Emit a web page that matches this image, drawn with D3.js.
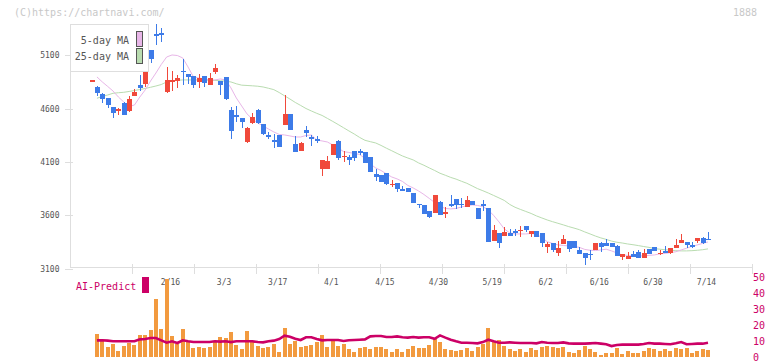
<!DOCTYPE html>
<html>
<head>
<meta charset="utf-8">
<script src="https://cdn.jsdelivr.net/npm/d3@7/dist/d3.min.js"></script>
<style>
  body { margin: 0; background: #fff; }
  svg { display: block; font-family: "DejaVu Sans Mono", monospace; }
</style>
</head>
<body>
<div id="chart"></div>
<script>
// trading days, 2026
const dates = [
  '1/23','1/26','1/27','1/28','1/29','1/30','2/2','2/3','2/4','2/5','2/6','2/9','2/10','2/12','2/13',
  '2/16','2/17','2/18','2/19','2/20','2/24','2/25','2/26','2/27','3/2',
  '3/3','3/4','3/5','3/6','3/9','3/10','3/11','3/12','3/13','3/16',
  '3/17','3/18','3/19','3/23','3/24','3/25','3/26','3/27','3/30','3/31',
  '4/1','4/2','4/3','4/6','4/7','4/8','4/9','4/10','4/13','4/14',
  '4/15','4/16','4/17','4/20','4/21','4/22','4/23','4/24','4/27','4/28',
  '4/30','5/1','5/7','5/8','5/11','5/12','5/13','5/14','5/15','5/18',
  '5/19','5/20','5/21','5/22','5/25','5/26','5/27','5/28','5/29','6/1',
  '6/2','6/3','6/4','6/5','6/8','6/9','6/10','6/11','6/12','6/15',
  '6/16','6/17','6/18','6/19','6/22','6/23','6/24','6/25','6/26','6/29',
  '6/30','7/1','7/2','7/3','7/6','7/7','7/8','7/9','7/10','7/13','7/14'
];

const openP = [
  4866,4806,4740,4700,4615,4581,4650,4581,4721,4822,4831,5150,5300,5309,4756,
  4845,4859,4953,4925,4906,4853,4906,4822,4943,4859,4899,4587,4540,4509,4290,
  4468,4587,4456,4353,4306,4353,4447,4550,4269,4206,4400,4331,4315,4034,4034,
  4166,4300,4150,4150,4203,4203,4197,4144,3988,3978,4000,3884,3900,3842,3859,
  3812,3708,3697,3641,3625,3725,3610,3702,3753,3706,3681,3734,3672,3703,3666,
  3362,3432,3406,3437,3456,3456,3500,3425,3456,3432,3306,3344,3250,3331,3362,
  3362,3275,3244,3238,3275,3338,3344,3344,3313,3212,3194,3238,3259,3203,3282,
  3306,3238,3269,3250,3297,3344,3353,3322,3360,3385,3378
];
const highP = [
  4866,4815,4747,4700,4615,4609,4662,4719,4781,4915,4993,5150,5393,5356,4993,
  4953,4915,5062,4925,4906,4925,4906,4931,5018,4859,4899,4618,4625,4509,4431,
  4562,4594,4456,4384,4362,4353,4728,4550,4344,4290,4440,4353,4344,4119,4156,
  4269,4306,4203,4166,4203,4219,4197,4144,4034,3978,4000,3931,3900,3875,3859,
  3812,3708,3697,3641,3791,3734,3675,3791,3753,3760,3781,3734,3672,3741,3666,
  3510,3432,3494,3469,3469,3500,3500,3456,3456,3432,3353,3344,3362,3416,3362,
  3362,3306,3244,3275,3338,3353,3376,3344,3322,3238,3259,3269,3275,3282,3282,
  3306,3275,3313,3297,3376,3425,3353,3353,3391,3400,3447
];
const lowP = [
  4866,4721,4656,4609,4515,4540,4540,4571,4721,4768,4806,5031,5196,5227,4744,
  4765,4794,4822,4831,4798,4794,4806,4822,4920,4728,4681,4315,4478,4416,4281,
  4456,4456,4353,4313,4228,4238,4447,4400,4197,4206,4331,4250,4275,3972,4034,
  4166,4119,4103,4072,4112,4166,4088,4009,3925,3915,3884,3868,3822,3833,3816,
  3719,3666,3613,3572,3625,3603,3578,3675,3657,3666,3681,3697,3566,3638,3353,
  3362,3291,3406,3406,3406,3400,3444,3400,3400,3306,3244,3259,3219,3331,3259,
  3291,3238,3135,3182,3275,3259,3313,3306,3222,3182,3194,3212,3203,3203,3238,
  3269,3228,3250,3238,3297,3344,3291,3291,3338,3331,3369
];
const closeP = [
  4866,4744,4693,4637,4562,4594,4540,4690,4759,4794,4981,5062,5285,5295,4868,
  4873,4890,4939,4892,4822,4884,4838,4884,4984,4822,4690,4390,4519,4478,4421,
  4519,4463,4362,4337,4290,4243,4550,4400,4197,4281,4375,4322,4306,4119,4109,
  4269,4140,4156,4119,4135,4187,4088,4009,3962,3915,3894,3894,3847,3833,3816,
  3719,3699,3613,3587,3791,3603,3634,3692,3697,3697,3744,3697,3566,3694,3353,
  3463,3344,3447,3406,3437,3463,3463,3456,3400,3344,3331,3275,3291,3376,3282,
  3291,3238,3197,3228,3338,3301,3313,3306,3222,3238,3219,3212,3203,3250,3238,
  3269,3250,3250,3297,3322,3369,3322,3306,3391,3344,3369
];

const ma5 = [
  null,4897,4850,4808,4765,4709,4662,4620,4634,4709,4775,4859,4934,5014,5084,
  5103,5098,5075,4990,4897,4887,4878,4869,4869,4878,4869,4794,4700,4625,4550,
  4503,4466,4437,4409,4381,4358,4353,4344,4334,4334,4348,4353,4306,4297,4287,
  4259,4231,4197,4189,4180,4170,4133,4081,4044,4020,3988,3959,3941,3917,3880,
  3856,3828,3795,3758,3720,3683,3664,3660,3664,3678,3688,3697,3692,3681,3650,
  3599,3538,3472,3435,3425,3425,3425,3430,3421,3392,3352,3336,3322,3317,3313,
  3308,3299,3280,3272,3269,3275,3282,3266,3247,3228,3224,3219,3219,3219,3224,
  3228,3238,3242,3250,3258,3275,3291,3308,3322,3336,3350
];
const ma25 = [
  null,4697,4714,4728,4744,4749,4753,4761,4770,4779,4789,4800,4812,4826,4850,
  4859,4866,4869,4869,4869,4869,4869,4866,4864,4862,4857,4850,4833,4820,4817,
  4814,4810,4803,4791,4778,4751,4720,4690,4658,4630,4601,4578,4556,4536,4508,
  4480,4451,4421,4391,4362,4330,4303,4290,4278,4255,4229,4205,4180,4156,4137,
  4119,4091,4069,4044,4020,3994,3975,3955,3939,3919,3900,3875,3850,3830,3809,
  3786,3763,3739,3702,3675,3655,3636,3617,3594,3575,3556,3540,3525,3510,3494,
  3480,3465,3444,3425,3405,3388,3374,3358,3347,3340,3331,3324,3316,3307,3299,
  3288,3282,3277,3272,3268,3266,3266,3268,3272,3277,3285
];

const volume = [
  null,14.5,10.5,6.3,8.4,3.8,6.9,9.0,7.8,13.9,13.9,
  17.0,36.5,17.6,49.3,13.4,8.4,17.6,9.4,5.7,6.3,
  5.7,6.3,9.4,12.6,12.0,15.7,7.8,5.0,16.4,10.1,
  6.9,5.7,6.3,8.4,3.1,18.3,8.4,10.1,6.3,6.9,
  7.8,9.4,14.1,6.3,10.1,6.9,8.4,5.0,3.1,5.7,
  6.3,5.0,6.3,6.3,5.0,3.1,5.0,3.1,5.0,6.9,
  5.7,5.7,7.8,11.5,9.4,5.0,4.4,3.8,4.4,5.7,
  3.8,6.3,8.4,18.3,9.4,10.5,6.9,5.0,3.8,5.0,
  3.1,5.7,4.4,6.3,6.9,6.3,5.7,6.3,3.1,2.5,
  4.4,6.9,5.0,3.1,1.5,2.5,2.5,5.7,1.9,3.8,
  2.5,2.5,3.8,5.7,5.0,3.8,5.0,3.8,5.7,5.0,
  5.7,2.5,3.8,5.0,4.4
];
const aiPredict = [
  null,10.5,10.5,10.3,9.9,9.9,9.9,9.9,9.9,11.1,11.3,
  12.0,12.0,10.5,9.0,9.9,8.8,10.5,9.9,9.4,9.4,
  9.4,9.4,9.9,9.7,9.9,9.4,9.9,9.9,9.9,9.9,
  9.4,9.2,9.9,10.3,11.3,13.4,12.8,11.5,10.7,12.4,
  12.4,11.3,10.5,10.7,10.7,10.7,10.1,10.5,10.7,10.9,
  11.1,13.0,13.2,13.2,12.6,12.6,13.0,12.4,12.2,12.6,
  12.2,12.4,12.4,11.5,13.6,12.2,10.9,9.9,9.0,9.0,
  8.8,8.6,9.4,10.9,9.9,9.0,9.0,9.2,9.0,8.8,
  8.8,8.8,8.6,9.4,9.0,8.8,8.8,9.2,8.6,8.4,
  8.4,8.4,8.6,8.8,8.4,8.0,6.9,7.6,7.8,7.8,
  7.8,7.8,8.2,8.8,8.4,8.4,8.2,8.0,8.6,9.4,
  8.0,8.2,8.4,8.4,9.0
];

const tickLabels = ['2/16','3/3','3/17','4/1','4/15','4/30','5/19','6/2','6/16','6/30','7/14'];
const priceTicks = [3100, 3600, 4100, 4600, 5100];
const volTicks = [0, 10, 20, 30, 40, 50];
const legendItems = [
  { label: '5-day MA', color: '#e8b6e8' },
  { label: '25-day MA', color: '#b9dcb0' }
];

const W = 772, H = 361;
const UP = '#f0493b', DOWN = '#3d7be8';
const AXIS = '#dedede', TXT = '#555', AI = '#cc0066';

const svg = d3.select('#chart').append('svg')
  .attr('width', W).attr('height', H);

const x = d3.scalePoint().domain(dates).range([91.6, 708]);
const y = d3.scaleLinear().domain([3100, 5100]).range([268.6, 55.3]);
const yVol = d3.scaleLinear().domain([0, 50]).range([357, 277.6]);
const grid = d3.scaleLinear().domain([0, 11]).range([70, 752]);

const px = d => Math.round(x(d));

// watermark
svg.append('text').attr('x', 14).attr('y', 16)
  .style('font-size', '10px').attr('fill', '#c8c8c8')
  .text('(C)https://chartnavi.com/');
svg.append('text').attr('x', 757).attr('y', 16).attr('text-anchor', 'end')
  .style('font-size', '10px').attr('fill', '#c8c8c8')
  .text('1888');

// axes
svg.append('line')
  .attr('x1', 70.5).attr('x2', 70.5).attr('y1', 24).attr('y2', 268)
  .attr('stroke', AXIS);
svg.append('line')
  .attr('x1', 70).attr('x2', 752).attr('y1', 267.5).attr('y2', 267.5)
  .attr('stroke', AXIS);

svg.append('g').selectAll('line')
  .data(d3.range(1, 12))
  .enter().append('line')
  .attr('x1', d => Math.round(grid(d)) + 0.5)
  .attr('x2', d => Math.round(grid(d)) + 0.5)
  .attr('y1', 264).attr('y2', 274)
  .attr('stroke', AXIS);

const yAxis = svg.append('g');
yAxis.selectAll('line')
  .data(priceTicks)
  .enter().append('line')
  .attr('x1', 65).attr('x2', 73)
  .attr('y1', d => Math.round(y(d)) + 0.5)
  .attr('y2', d => Math.round(y(d)) + 0.5)
  .attr('stroke', AXIS);
yAxis.selectAll('text')
  .data(priceTicks)
  .enter().append('text')
  .attr('x', 59.5).attr('y', d => y(d) + 3)
  .attr('text-anchor', 'end')
  .style('font-size', '8px').attr('fill', TXT)
  .text(d => d);

svg.append('g').selectAll('text')
  .data(tickLabels)
  .enter().append('text')
  .attr('x', d => x(d) - 1.5).attr('y', 285)
  .attr('text-anchor', 'middle')
  .style('font-size', '8px').attr('fill', TXT)
  .text(d => d);

// moving averages
const maLine = arr => d3.line()
  .defined((d, i) => arr[i] != null)
  .x(d => x(d))
  .y((d, i) => y(arr[i]));

svg.append('path').datum(dates)
  .attr('d', maLine(ma25))
  .attr('fill', 'none').attr('stroke', legendItems[1].color).attr('stroke-width', 1);
svg.append('path').datum(dates)
  .attr('d', maLine(ma5))
  .attr('fill', 'none').attr('stroke', legendItems[0].color).attr('stroke-width', 1);

// candles
const candles = dates.map((d, i) => ({
  d, o: openP[i], h: highP[i], l: lowP[i], c: closeP[i]
}));
const cg = svg.append('g').attr('shape-rendering', 'crispEdges');
cg.selectAll('.wick')
  .data(candles.filter(k => k.h > k.l))
  .enter().append('line')
  .attr('class', 'wick')
  .attr('x1', k => px(k.d) + 0.5).attr('x2', k => px(k.d) + 0.5)
  .attr('y1', k => y(k.h)).attr('y2', k => y(k.l))
  .attr('stroke', k => k.c >= k.o ? UP : DOWN);
cg.selectAll('.body')
  .data(candles)
  .enter().append('rect')
  .attr('class', 'body')
  .attr('x', k => px(k.d) - 2)
  .attr('width', 5)
  .attr('y', k => y(Math.max(k.o, k.c)))
  .attr('height', k => Math.max(1.5, Math.abs(y(k.o) - y(k.c))))
  .attr('fill', k => k.c >= k.o ? UP : DOWN);

// legend
const lg = svg.append('g');
lg.append('rect')
  .attr('x', 70.5).attr('y', 24.5).attr('width', 78).attr('height', 47)
  .attr('fill', '#fff').attr('stroke', AXIS);
legendItems.forEach((item, i) => {
  lg.append('text')
    .attr('x', 129).attr('y', 44 + i * 16)
    .attr('text-anchor', 'end')
    .style('font-size', '10px').attr('fill', TXT)
    .text(item.label);
  lg.append('rect')
    .attr('x', 136.5).attr('y', 31.5 + i * 17).attr('width', 6).attr('height', 15)
    .attr('fill', item.color).attr('stroke', '#555');
});

// volume panel
const vg = svg.append('g').attr('shape-rendering', 'crispEdges');
vg.selectAll('rect')
  .data(dates.filter((d, i) => volume[i] != null))
  .enter().append('rect')
  .attr('x', d => px(d) - 2)
  .attr('width', 4)
  .attr('y', d => yVol(volume[dates.indexOf(d)]))
  .attr('height', d => yVol(0) - yVol(volume[dates.indexOf(d)]))
  .attr('fill', '#f29a3f');

svg.append('path').datum(dates)
  .attr('d', d3.line()
    .defined((d, i) => aiPredict[i] != null)
    .x(d => x(d))
    .y((d, i) => yVol(aiPredict[i])))
  .attr('fill', 'none').attr('stroke', AI).attr('stroke-width', 2.6);

svg.append('g').selectAll('text')
  .data(volTicks)
  .enter().append('text')
  .attr('x', 753).attr('y', d => yVol(d) + 3.5)
  .style('font-size', '10px').attr('fill', AI)
  .text(d => d);

svg.append('text').attr('x', 76).attr('y', 289.5)
  .style('font-size', '10px').attr('fill', AI)
  .text('AI-Predict');
svg.append('rect')
  .attr('x', 142).attr('y', 277).attr('width', 7).attr('height', 16)
  .attr('fill', AI);
</script>
</body>
</html>
